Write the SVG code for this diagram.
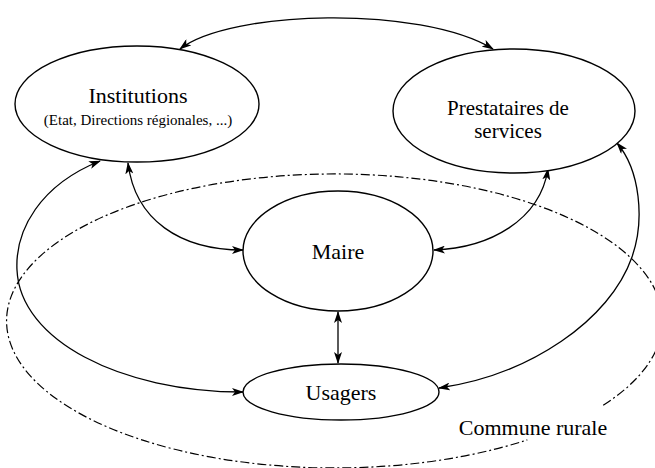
<svg xmlns="http://www.w3.org/2000/svg" width="655" height="468" viewBox="0 0 655 468">
<style>
.node{fill:#fff;stroke:#000;stroke-width:1.4}
.lbl{font-family:"Liberation Serif","Times New Roman",serif;fill:#000;text-anchor:middle}
.big{font-size:22px}
.mid{font-size:21px}
.small{font-size:15px}
.con{fill:none;stroke:#000;stroke-width:1.3;marker-start:url(#ah);marker-end:url(#ah)}
.zone{fill:none;stroke:#000;stroke-width:1.2;stroke-dasharray:9 3 2 3}
</style>
<defs>
<marker id="ah" viewBox="0 0 12 8" refX="11" refY="4" markerWidth="12" markerHeight="8" markerUnits="userSpaceOnUse" orient="auto-start-reverse">
<path d="M0,0 L12,4 L0,8 L3,4 z" fill="#000"/>
</marker>
</defs>
<g id="zone">
<path class="zone" d="M603.2,405.3 A328,147 0 1 0 527.3,439.9"/>
<text class="lbl big" x="533" y="435">Commune rurale</text>
</g>
<g id="connectors">
<path class="con" d="M180,49 C230,10 420,5 493,49"/>
<path class="con" d="M128,163 C135,220 180,250 243,250"/>
<path class="con" d="M100,161 C40,185 15,230 17,270 C20,340 120,392 243,392"/>
<path class="con" d="M548,169 C540,220 490,248 434,250"/>
<path class="con" d="M617,143 C640,170 645,220 632,257 C610,320 530,375 439,388"/>
<path class="con" d="M338,312 L338,363"/>
</g>
<g id="institutions">
<ellipse class="node" cx="137" cy="104" rx="122" ry="58"/>
<text class="lbl big" x="138" y="103">Institutions</text>
<text class="lbl small" x="138" y="125">(Etat, Directions régionales, ...)</text>
</g>
<g id="prestataires">
<ellipse class="node" cx="514" cy="111" rx="121" ry="62"/>
<text class="lbl mid" x="508" y="115">Prestataires de</text>
<text class="lbl mid" x="508" y="138">services</text>
</g>
<g id="maire">
<ellipse class="node" cx="338" cy="251" rx="95" ry="60"/>
<text class="lbl big" x="338" y="259">Maire</text>
</g>
<g id="usagers">
<ellipse class="node" cx="341" cy="392" rx="98" ry="28"/>
<text class="lbl big" x="341" y="400">Usagers</text>
</g>
</svg>
